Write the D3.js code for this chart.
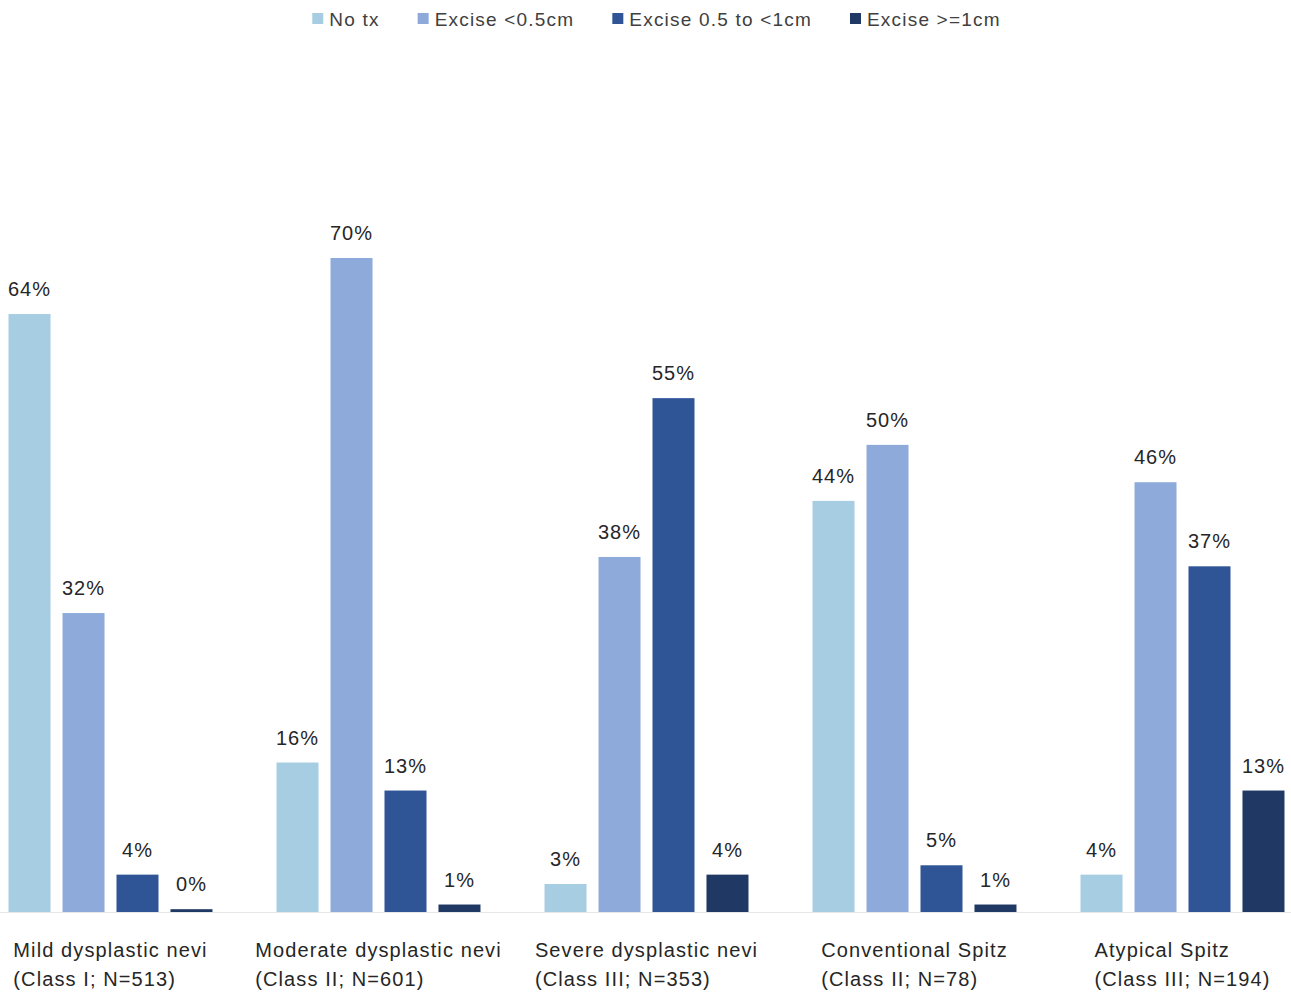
<!DOCTYPE html>
<html><head><meta charset="utf-8">
<script src="https://cdn.jsdelivr.net/npm/d3@7"></script>
<style>body{margin:0;background:#fff}svg{display:block}</style>
</head><body>
<script>
const categories = ["Mild dysplastic nevi", "Moderate dysplastic nevi", "Severe dysplastic nevi", "Conventional Spitz", "Atypical Spitz"];
const subLabels = ["(Class I; N=513)", "(Class II; N=601)", "(Class III; N=353)", "(Class II; N=78)", "(Class III; N=194)"];
const series = ["No tx", "Excise <0.5cm", "Excise 0.5 to <1cm", "Excise >=1cm"];
const noTx = [64, 16, 3, 44, 4];
const exciseSmall = [32, 70, 38, 50, 46];
const exciseMid = [4, 13, 55, 5, 37];
const exciseLarge = [0.3, 0.8, 4, 0.8, 13];
const colors = ["#a6cde2", "#8eaadb", "#2f5597", "#203864"];

const W = 1291, H = 994;
const svg = d3.select("body").append("svg").attr("width", W).attr("height", H);
const font = "Liberation Sans, Arial, sans-serif";
const values = [noTx, exciseSmall, exciseMid, exciseLarge];

const x0 = d3.scaleBand().domain(categories).range([-23.5, 1316.5]).padding(0);
const x1 = d3.scaleBand().domain(series).range([0, x0.bandwidth()]).paddingInner(0.222).paddingOuter(0.593);
const y = d3.scaleLinear().domain([0, 70]).range([912, 258]);

// baseline
svg.append("line").attr("x1", 0).attr("x2", W).attr("y1", y(0) + 0.5).attr("y2", y(0) + 0.5)
  .attr("stroke", "#e6e6e6").attr("stroke-width", 1);

const groups = svg.selectAll("g.grp").data(categories).join("g")
  .attr("transform", d => `translate(${x0(d)},0)`);

series.forEach((s, si) => {
  groups.append("rect")
    .attr("x", x1(s)).attr("width", x1.bandwidth())
    .attr("y", (d, i) => y(values[si][i]))
    .attr("height", (d, i) => y(0) - y(values[si][i]))
    .attr("fill", colors[si]);
  groups.append("text")
    .attr("x", x1(s) + x1.bandwidth() / 2)
    .attr("y", (d, i) => y(values[si][i]) - 18)
    .attr("text-anchor", "middle")
    .attr("font-family", font).attr("font-size", 20).attr("letter-spacing", 1).attr("fill", "#262626")
    .text((d, i) => Math.round(values[si][i]) + "%");
});

// category labels: block centered on group, lines left aligned
categories.forEach((c, i) => {
  const g = svg.append("g");
  const t1 = g.append("text").attr("y", 957).text(c);
  const t2 = g.append("text").attr("y", 986).text(subLabels[i]);
  g.selectAll("text").attr("font-family", font).attr("font-size", 20).attr("letter-spacing", 1.1).attr("fill", "#262626");
  const w = Math.max(t1.node().getComputedTextLength(), t2.node().getComputedTextLength());
  const cx = x0(c) + x0.bandwidth() / 2;
  g.selectAll("text").attr("x", cx - w / 2);
});

// legend
const legend = svg.append("g");
let lx = 0;
series.forEach((s, i) => {
  const it = legend.append("g");
  it.append("rect").attr("x", 0).attr("y", 13).attr("width", 11).attr("height", 11).attr("fill", colors[i]);
  const t = it.append("text").attr("x", 17).attr("y", 26).text(s)
    .attr("font-family", font).attr("font-size", 19).attr("letter-spacing", 1.2).attr("fill", "#404040");
  const w = 17 + t.node().getComputedTextLength();
  it.attr("transform", `translate(${lx},0)`);
  lx += w + 38;
});
const totalW = lx - 38;
legend.attr("transform", `translate(${(W - totalW) / 2 + 11},0)`);
</script>
</body></html>
